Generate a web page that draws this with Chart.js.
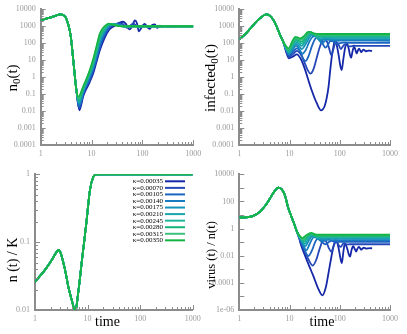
<!DOCTYPE html>
<html>
<head>
<meta charset="utf-8">
<script src="https://cdn.jsdelivr.net/npm/chart.js@4.4.1/dist/chart.umd.min.js"></script>
<style>
  html, body { margin:0; padding:0; background:#fff; width:407px; height:334px; overflow:hidden; }
  .panel { position:absolute; width:207px; height:167px; }
</style>
</head>
<body>
<div class="panel" style="left:0;top:0"><canvas id="cN0"></canvas></div>
<div class="panel" style="left:200px;top:0"><canvas id="cInf"></canvas></div>
<div class="panel" style="left:0;top:167px"><canvas id="cN"></canvas></div>
<div class="panel" style="left:200px;top:167px"><canvas id="cVir"></canvas></div>
<script>
// kappa values and their line colours (dark blue -> green)
const kappas = ['0.00035','0.00070','0.00105','0.00140','0.00175','0.00210','0.00245','0.00280','0.00315','0.00350'];
const colors = ['#1428a8','#2448b8','#1c64c0','#1a7cc0','#1692b8','#18a6ac','#20b49c','#14b478','#3cc080','#14b444'];

// tick labels
const xTickVals  = [1, 10, 100, 1000];
const xTickText  = ['1', '10', '100', '1000'];
const n0TickVals = [1e-4, 1e-3, 1e-2, 0.1, 1, 10, 100, 1000, 1e4];
const n0TickText = ['0.0001','0.001','0.01','0.1','1','10','100','1000','10000'];
const nTickVals  = [0.01, 0.1, 1];
const nTickText  = ['0.01', '0.1', '1'];
const virTickVals = [1e-6, 1e-4, 1e-2, 1, 100, 1e4];
const virTickText = ['1e-06', '0.0001', '0.01', '1', '100', '10000'];

// n0(t): shared start, then one tail per kappa  [time, value]
const n0HeadT = [1, 1.5, 2, 2.4, 2.8, 3.1, 3.5, 3.9, 4.4, 5.0];
const n0HeadV = [2300, 3200, 4300, 5000, 4500, 3300, 1200, 250, 8, 0.2];
const n0Tails = [
  [[5.75,0.011],[6.9,0.08],[9,0.45],[10.8,1.7],[12.5,8],[14.6,40],[18,200],[22,600],[28,1050],[35,1600],[42,1850],[48,1300],[55,650],[62,900],[71,2200],[78,1500],[85,500],[95,800],[110,1400],[125,900],[140,700],[155,1200],[175,1300],[195,800],[220,1100],[250,950],[280,1050],[320,980],[380,1000],[440,1000]],
  [[5.7,0.014],[6.9,0.1],[9,0.58],[10.8,2.3],[12.5,11],[14.6,55],[18,270],[22,750],[28,1250],[35,1550],[42,1300],[50,800],[58,1100],[66,1500],[75,1100],[85,850],[100,1100],[120,1000],[160,1000],[1000,1000]],
  [[5.7,0.018],[6.9,0.12],[9,0.72],[10.8,3],[12.5,14],[14.6,75],[18,340],[22,880],[28,1350],[35,1300],[42,1000],[50,900],[60,1100],[75,1000],[1000,1000]],
  [[5.65,0.022],[6.9,0.14],[9,0.88],[10.8,3.8],[12.5,18],[14.6,100],[18,420],[22,1000],[28,1400],[35,1200],[45,950],[55,1030],[70,1000],[1000,1000]],
  [[5.65,0.027],[6.9,0.16],[9,1.05],[10.8,4.7],[12.5,23],[14.6,130],[18,500],[22,1100],[28,1400],[35,1150],[45,970],[60,1000],[1000,1000]],
  [[5.6,0.033],[6.9,0.19],[9,1.25],[10.8,5.8],[12.5,29],[14.6,170],[18,600],[22,1200],[28,1350],[35,1100],[45,980],[60,1000],[1000,1000]],
  [[5.6,0.04],[6.9,0.21],[9,1.45],[10.8,7],[12.5,36],[14.6,210],[18,690],[22,1300],[28,1300],[35,1070],[50,1000],[1000,1000]],
  [[5.55,0.047],[6.9,0.24],[9,1.65],[10.8,8.5],[12.5,45],[14.6,260],[18,780],[22,1350],[28,1250],[35,1050],[50,1000],[1000,1000]],
  [[5.55,0.057],[6.9,0.27],[9,1.9],[10.8,10],[12.5,55],[14.6,320],[18,880],[22,1400],[28,1200],[35,1030],[50,1000],[1000,1000]],
  [[5.5,0.07],[6.9,0.3],[9,2.1],[10.8,12],[12.5,65],[14.6,390],[18,980],[22,1450],[28,1150],[35,1020],[50,1000],[1000,1000]]
];

// infected0(t)
const infHeadT = [1, 1.3, 1.63, 2, 2.6, 3.4, 4, 4.8, 5.6, 6.5, 7.5];
const infHeadV = [170, 330, 700, 1400, 3000, 5000, 4300, 2300, 900, 300, 120];
const infTails = [
  [[8.6,30],[9.7,13],[11.5,16],[14,22],[17,11],[20,3.3],[24,0.6],[27.6,0.17],[34.7,0.03],[42.5,0.011],[50,0.02],[55,0.06],[60,0.3],[64,2],[70,20],[75,65],[80,155],[86,90],[95,20],[102,5],[109,2.6],[118,12],[128,55],[138,100],[150,50],[160,20],[168,14],[180,35],[193,63],[205,40],[218,25],[230,38],[243,48],[255,38],[268,30],[283,37],[298,42],[315,37],[330,33],[350,35],[380,37],[410,35.5],[440,35]],
  [[8.6,35],[9.7,16],[11.5,22],[14,35],[17,20],[20,7],[23,2.6],[26,1.6],[30,3],[35,15],[40,60],[45,140],[50,190],[56,120],[62,45],[68,20],[74,40],[80,90],[86,110],[95,80],[105,45],[115,65],[125,85],[140,75],[160,65],[190,71],[240,70],[1000,70]],
  [[8.6,40],[9.7,19],[11.5,30],[14,50],[16.5,30],[19,11],[21,9],[24,18],[28,70],[32,170],[36,230],[41,170],[46,90],[52,55],[58,80],[65,140],[72,130],[85,95],[100,100],[120,108],[150,105],[1000,105]],
  [[8.6,42],[9.7,22],[11.5,40],[13.5,70],[16,40],[18,24],[21,40],[25,130],[29,240],[33,260],[38,170],[44,100],[50,130],[56,170],[65,150],[80,138],[100,141],[1000,140]],
  [[8.6,45],[9.7,25],[11.5,52],[13.5,90],[16,60],[17.5,45],[20,70],[24,180],[28,300],[31,300],[35,220],[40,150],[46,170],[52,190],[62,178],[80,175],[1000,175]],
  [[8.6,48],[9.7,29],[11.5,65],[13.5,115],[16,85],[17.5,70],[20,110],[24,250],[28,350],[32,290],[38,190],[44,205],[50,215],[65,210],[1000,210]],
  [[8.6,52],[9.6,33],[11.5,80],[13.5,140],[16,110],[17.5,95],[20.5,160],[24,310],[27,380],[31,310],[37,235],[45,250],[60,245],[1000,245]],
  [[8.6,56],[9.6,38],[11.5,95],[13.3,170],[16,135],[17.5,125],[20.5,210],[23.5,360],[26.5,420],[31,340],[36,275],[45,283],[60,280],[1000,280]],
  [[8.6,60],[9.5,43],[11.5,115],[13.2,200],[16,165],[17,160],[20.5,250],[23.5,410],[26,450],[30.5,370],[36,315],[48,316],[1000,315]],
  [[8.6,65],[9.5,50],[11.5,140],[13,240],[15,210],[16.5,190],[20,290],[23.5,470],[26,470],[30,380],[35,355],[45,350],[1000,350]]
];

// n(t)/K, identical for every kappa
const nT = [1, 1.55, 2.1, 2.58, 2.86, 3.1, 3.46, 3.9, 4.3, 5, 5.6, 6.0, 6.3, 7.0, 7.7, 8.6, 9.6, 11.1, 12.9, 14.5, 16, 1000];
const nV = [0.026, 0.039, 0.055, 0.072, 0.077, 0.068, 0.05, 0.033, 0.022, 0.014, 0.0103, 0.01, 0.013, 0.025, 0.049, 0.1, 0.21, 0.59, 0.92, 0.99, 1, 1];

// virus(t)/n(t)
const virHeadT = [1, 1.5, 2, 2.6, 3.3, 4.1, 5, 6, 7, 8.1, 9.5, 11, 12.5, 13.8];
const virHeadV = [6.5, 7, 9.5, 18, 50, 170, 550, 1050, 780, 280, 30, 7, 2, 0.7];
const virTails = [
  [[15.5,0.2],[17,0.06],[20,0.012],[25,0.0015],[30,3e-4],[37,4e-5],[45,1.2e-5],[53,5e-5],[60,6e-4],[68,0.008],[76,0.06],[84,0.145],[95,0.035],[102,0.008],[110,0.0028],[118,0.02],[127,0.083],[140,0.035],[150,0.014],[160,0.0085],[172,0.028],[185,0.05],[200,0.03],[212,0.02],[225,0.033],[240,0.045],[255,0.035],[270,0.028],[285,0.034],[300,0.04],[320,0.036],[340,0.033],[370,0.035],[400,0.036],[440,0.035]],
  [[15.5,0.22],[17,0.08],[20,0.022],[24,0.005],[29,0.0019],[34,0.005],[40,0.035],[47,0.14],[53,0.12],[60,0.04],[68,0.02],[76,0.055],[85,0.11],[95,0.06],[105,0.045],[118,0.08],[135,0.068],[160,0.07],[1000,0.07]],
  [[15.5,0.24],[17,0.11],[19,0.04],[23.7,0.0095],[28,0.025],[33,0.12],[37,0.19],[44,0.1],[52,0.07],[60,0.1],[68,0.125],[85,0.1],[110,0.106],[1000,0.105]],
  [[15.5,0.25],[17,0.13],[18.5,0.07],[21.5,0.025],[25,0.07],[30,0.22],[34,0.23],[40,0.14],[47,0.12],[56,0.15],[70,0.14],[1000,0.14]],
  [[15.5,0.26],[17,0.15],[18,0.1],[20.5,0.05],[24,0.12],[28,0.26],[32,0.26],[38,0.17],[46,0.17],[55,0.18],[1000,0.175]],
  [[15.5,0.27],[17,0.17],[20,0.075],[23,0.15],[27,0.3],[31,0.29],[37,0.21],[45,0.21],[1000,0.21]],
  [[15.5,0.28],[17,0.19],[19.5,0.1],[22.5,0.2],[26.5,0.34],[30,0.32],[36,0.245],[1000,0.245]],
  [[15.5,0.3],[17,0.21],[19,0.13],[22,0.24],[26,0.4],[30,0.34],[36,0.28],[1000,0.28]],
  [[15.5,0.31],[18.5,0.16],[22,0.28],[26.5,0.44],[31,0.37],[37,0.315],[1000,0.315]],
  [[15.5,0.33],[18,0.2],[21,0.3],[27,0.48],[32,0.38],[38,0.35],[1000,0.35]]
];

const SERIF = '"Liberation Serif", "DejaVu Serif", serif';

function points(headT, headV, tail) {
  return headT.map((t, i) => ({ x: t, y: headV[i] })).concat(tail.map(p => ({ x: p[0], y: p[1] })));
}

function datasets(build) {
  return kappas.map((k, i) => ({
    label: 'κ=' + k,
    data: build(i),
    borderColor: colors[i],
    borderWidth: 1.8,
    pointRadius: 0,
    fill: false,
    cubicInterpolationMode: 'monotone',
    order: kappas.length - i
  }));
}

// decade majors + 2..9 minors between lo and hi
function logTicks(lo, hi, minors) {
  const out = [];
  for (let e = Math.round(Math.log10(lo)); e <= Math.round(Math.log10(hi)); e++) {
    const d = Math.pow(10, e);
    out.push({ value: d, major: true });
    if (minors && d * 10 <= hi * 1.0001) for (let m = 2; m <= 9; m++) out.push({ value: m * d, major: false });
  }
  return out;
}

function labelOf(vals, text) {
  return v => {
    const i = vals.findIndex(t => Math.abs(Math.log10(t) - Math.log10(v)) < 1e-6);
    return i < 0 ? '' : text[i];
  };
}

// inward tick marks, titles and the legend
const decor = {
  id: 'decor',
  afterDraw(chart, args, o) {
    const ctx = chart.ctx, xs = chart.scales.x, ys = chart.scales.y, a = chart.chartArea;
    ctx.save();
    ctx.strokeStyle = '#8c8c8c';
    ctx.lineWidth = 1;
    xs.ticks.forEach(t => {
      const px = Math.round(xs.getPixelForValue(t.value)) + 0.5;
      const len = t.major ? 5 : 3;
      ctx.beginPath(); ctx.moveTo(px, a.bottom); ctx.lineTo(px, a.bottom - len); ctx.stroke();
    });
    ys.ticks.forEach(t => {
      const py = Math.round(ys.getPixelForValue(t.value)) + 0.5;
      const len = t.major ? 5 : 3;
      ctx.beginPath(); ctx.moveTo(a.left, py); ctx.lineTo(a.left + len, py); ctx.stroke();
    });

    ctx.fillStyle = '#000';
    if (o.ytitle) {
      ctx.save();
      ctx.translate(o.ytx, o.yty);
      ctx.rotate(-Math.PI / 2);
      ctx.textBaseline = 'middle';
      const main = o.ysize + 'px ' + SERIF, sub = Math.round(o.ysize * 0.7) + 'px ' + SERIF;
      let w = 0;
      o.ytitle.forEach(s => { ctx.font = s.sub ? sub : main; w += ctx.measureText(s.text).width; });
      let x0 = -w / 2;
      o.ytitle.forEach(s => {
        ctx.font = s.sub ? sub : main;
        ctx.fillText(s.text, x0, s.sub ? o.ysize * 0.3 : 0);
        x0 += ctx.measureText(s.text).width;
      });
      ctx.restore();
    }
    if (o.xtitle) {
      ctx.font = o.xsize + 'px ' + SERIF;
      ctx.textAlign = 'center';
      ctx.textBaseline = 'middle';
      ctx.fillText(o.xtitle, o.xtx, o.xty);
    }
    if (o.legend) {
      ctx.font = '7px ' + SERIF;
      ctx.textAlign = 'left';
      ctx.textBaseline = 'middle';
      chart.data.datasets.forEach((d, i) => {
        const y = o.legend.y + i * o.legend.step;
        ctx.fillStyle = '#000';
        ctx.fillText(d.label, o.legend.x, y);
        ctx.strokeStyle = d.borderColor;
        ctx.lineWidth = 2;
        ctx.beginPath(); ctx.moveTo(o.legend.lx0, y); ctx.lineTo(o.legend.lx1, y); ctx.stroke();
      });
    }
    ctx.restore();
  }
};

function makeChart(id, ds, geo, y, titles) {
  const tickFont = { family: SERIF, size: 8 };
  new Chart(document.getElementById(id), {
    type: 'line',
    data: { datasets: ds },
    plugins: [decor],
    options: {
      responsive: true,
      maintainAspectRatio: false,
      animation: false,
      layout: { padding: { left: 0, top: geo.top, right: geo.right, bottom: 0 } },
      plugins: { legend: { display: false }, tooltip: { enabled: false }, decor: titles },
      scales: {
        x: {
          type: 'logarithmic', min: 1, max: 1000,
          afterBuildTicks: s => { s.ticks = logTicks(1, 1000, true); },
          afterFit: s => { s.height = geo.xh; s.paddingLeft = 0; s.paddingRight = 0; },
          ticks: { autoSkip: false, maxRotation: 0, color: '#9a9a9a', font: tickFont, padding: 4,
                   callback: labelOf(xTickVals, xTickText) },
          grid: { drawOnChartArea: false, drawTicks: false },
          border: { display: true, color: '#8c8c8c', width: 2 }
        },
        y: {
          type: 'logarithmic', min: y.min, max: y.max,
          afterBuildTicks: s => { s.ticks = logTicks(y.min, y.max, y.minors); },
          afterFit: s => { s.width = geo.yw; s.paddingTop = 0; s.paddingBottom = 0; },
          ticks: { autoSkip: false, color: '#9a9a9a', font: tickFont, padding: 5,
                   callback: labelOf(y.vals, y.text) },
          grid: { drawOnChartArea: false, drawTicks: false },
          border: { display: true, color: '#8c8c8c', width: 2 }
        }
      }
    }
  });
}

makeChart('cN0',
  datasets(i => points(n0HeadT, n0HeadV, n0Tails[i])),
  { top: 9.3, right: 13.7, xh: 22, yw: 40.7 },
  { min: 1e-4, max: 1e4, minors: true, vals: n0TickVals, text: n0TickText },
  { ytitle: [{ text: 'n' }, { text: '0', sub: true }, { text: '(t)' }], ysize: 15, ytx: 13, yty: 78 });

makeChart('cInf',
  datasets(i => points(infHeadT, infHeadV, infTails[i])),
  { top: 9.3, right: 17, xh: 22, yw: 39.3 },
  { min: 1e-4, max: 1e4, minors: true, vals: n0TickVals, text: n0TickText },
  { ytitle: [{ text: 'infected' }, { text: '0', sub: true }, { text: '(t)' }], ysize: 15, ytx: 11, yty: 78 });

makeChart('cN',
  datasets(i => points(nT, nV, [])),
  { top: 7.3, right: 14.3, xh: 24, yw: 35 },
  { min: 0.01, max: 1, minors: true, vals: nTickVals, text: nTickText },
  { ytitle: [{ text: 'n (t) / K' }], ysize: 14, ytx: 13, yty: 93,
    xtitle: 'time', xsize: 14, xtx: 107.5, xty: 155,
    legend: { x: 132.7, y: 14.3, step: 6.56, lx0: 165, lx1: 185 } });

makeChart('cVir',
  datasets(i => points(virHeadT, virHeadV, virTails[i])),
  { top: 7.3, right: 17, xh: 24, yw: 39.3 },
  { min: 1e-6, max: 1e4, minors: false, vals: virTickVals, text: virTickText },
  { ytitle: [{ text: 'virus (t) / n(t)' }], ysize: 12.5, ytx: 12, yty: 88,
    xtitle: 'time', xsize: 14, xtx: 122, xty: 155 });
</script>
</body>
</html>
